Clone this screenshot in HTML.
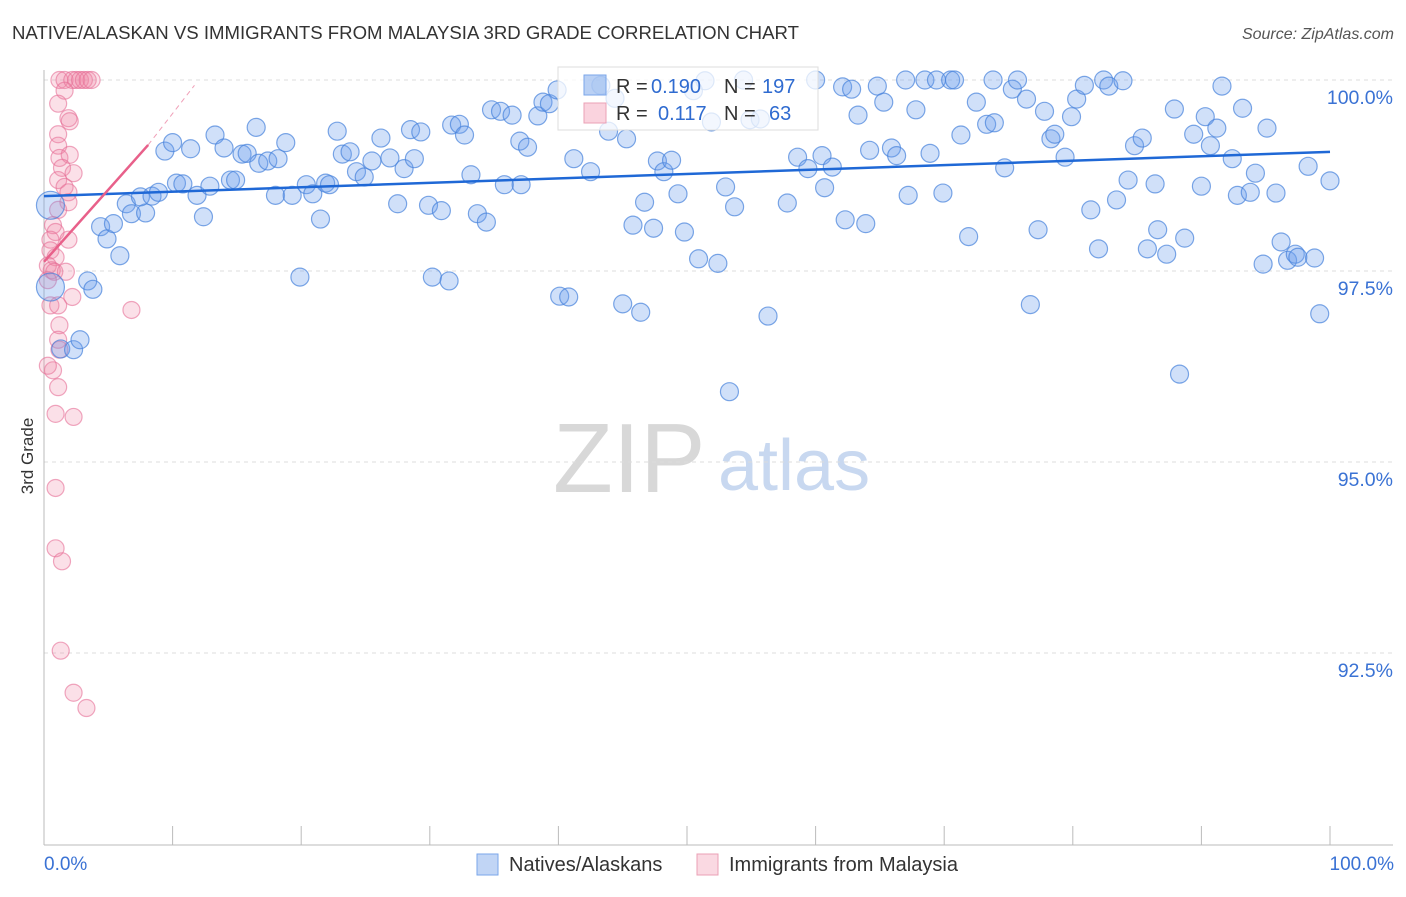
<!DOCTYPE html>
<html><head><meta charset="utf-8"><style>
body{margin:0;background:#fff;font-family:"Liberation Sans",sans-serif;}
svg text{font-family:"Liberation Sans",sans-serif;}
</style></head><body>
<svg id="chart" width="1406" height="892" viewBox="0 0 1406 892" xmlns="http://www.w3.org/2000/svg">
<text x="12" y="39" font-size="18.6" fill="#333">NATIVE/ALASKAN VS IMMIGRANTS FROM MALAYSIA 3RD GRADE CORRELATION CHART</text>
<text x="1394" y="39" font-size="16" fill="#555" text-anchor="end" font-style="italic">Source: ZipAtlas.com</text>
<g>
<text x="553" y="492" font-size="98" fill="#d8d8d8" font-family="Liberation Serif, serif">ZIP</text>
<text x="718" y="490" font-size="72" fill="#c8d8f0">atlas</text>
</g>
<g id="grid"></g>
<g id="axes"></g>
<g id="pinkPts"></g>
<g id="bluePts"></g>
<g id="trends"></g>
<text transform="translate(33,456) rotate(-90)" font-size="17" fill="#333" text-anchor="middle">3rd Grade</text>
<g>
<rect x="558" y="67" width="260" height="63" fill="rgba(255,255,255,0.75)" stroke="#ddd"/>
<rect x="584" y="75" width="22" height="20" fill="rgba(100,150,230,0.45)" stroke="#7aa6ea"/>
<rect x="584" y="103" width="22" height="20" fill="rgba(240,130,160,0.35)" stroke="#eba0b5"/>
<text x="616" y="93" font-size="20" fill="#333">R =</text>
<text x="651" y="93" font-size="20" fill="#2f6bd0">0.190</text>
<text x="724" y="93" font-size="20" fill="#333">N =</text>
<text x="762" y="93" font-size="20" fill="#2f6bd0">197</text>
<text x="616" y="120" font-size="20" fill="#333">R =</text>
<text x="658" y="120" font-size="20" fill="#2f6bd0">0.117</text>
<text x="724" y="120" font-size="20" fill="#333">N =</text>
<text x="769" y="120" font-size="20" fill="#2f6bd0">63</text>
</g>
<g>
<rect x="477" y="854" width="21" height="21" fill="rgba(100,150,230,0.4)" stroke="#7aa6ea"/>
<text x="509" y="871" font-size="20" fill="#333">Natives/Alaskans</text>
<rect x="697" y="854" width="21" height="21" fill="rgba(240,130,160,0.3)" stroke="#eba0b5"/>
<text x="729" y="871" font-size="20" fill="#333">Immigrants from Malaysia</text>
</g>
</svg>
<script>
const yTicks=[100,97.5,95,92.5];
const yTickLabels=["100.0%","97.5%","95.0%","92.5%"];
const xTicks=[0,10,20,30,40,50,60,70,80,90,100];
const blueX=[0.5,0.5,1.3,2.3,2.8,3.4,3.8,4.4,4.9,5.4,5.9,6.4,6.8,7.9,7.5,8.4,8.9,9.4,10.0,10.3,10.8,11.4,11.9,12.4,12.9,13.3,14.0,14.5,14.9,15.4,15.8,16.7,16.5,17.4,18.2,18.0,18.8,19.3,19.9,20.4,20.9,21.5,21.9,22.2,22.8,23.2,23.8,24.3,24.9,25.5,26.2,26.9,27.5,28.0,28.5,28.8,29.3,29.9,30.2,30.9,31.5,31.7,32.3,32.7,33.2,33.7,34.4,34.8,35.5,35.8,36.4,37.1,37.0,37.6,38.4,38.8,39.3,39.9,40.1,40.8,41.2,42.5,43.3,43.9,44.4,45.0,45.3,45.8,46.4,46.7,47.4,47.7,48.2,48.8,49.3,49.8,50.5,50.9,51.4,51.9,52.4,53.0,53.3,53.7,54.4,54.9,55.7,56.3,57.8,58.6,59.4,60.0,60.5,60.7,61.3,62.1,62.3,62.8,63.3,63.9,64.2,64.8,65.3,65.9,66.3,67.2,67.8,67.0,68.9,68.5,69.4,69.9,70.5,70.8,71.3,71.9,72.5,73.3,73.8,73.9,74.7,75.3,75.7,76.4,76.7,77.3,77.8,78.3,78.6,79.4,79.9,80.3,80.9,81.4,82.0,82.4,82.8,83.4,83.9,84.3,84.8,85.4,85.8,86.4,86.6,87.3,87.9,88.3,88.7,89.4,90.0,90.3,90.7,91.2,91.6,92.4,92.8,93.2,93.8,94.2,94.8,95.1,95.8,96.2,96.7,97.3,97.5,98.3,98.8,99.2,100.0];
const blueY=[98.36,97.29,96.48,96.47,96.60,97.37,97.26,98.08,97.92,98.12,97.70,98.38,98.25,98.26,98.47,98.48,98.53,99.07,99.18,98.65,98.64,99.10,98.49,98.21,98.61,99.28,99.11,98.69,98.69,99.03,99.04,98.91,99.38,98.94,98.97,98.49,99.18,98.49,97.42,98.63,98.51,98.18,98.65,98.63,99.33,99.03,99.06,98.80,98.73,98.94,99.24,98.98,98.38,98.84,99.35,98.97,99.32,98.36,97.42,98.29,97.37,99.41,99.42,99.28,98.76,98.25,98.14,99.61,99.59,98.63,99.54,98.63,99.20,99.12,99.53,99.71,99.69,99.87,97.17,97.16,98.97,98.80,99.93,99.33,99.76,97.07,99.23,98.10,96.96,98.40,98.06,98.94,98.80,98.95,98.51,98.01,99.86,97.66,99.99,99.45,97.60,98.60,95.92,98.34,100.0,99.48,99.49,96.91,98.39,98.99,98.84,100.0,99.01,98.59,98.86,99.91,98.17,99.88,99.54,98.12,99.08,99.92,99.71,99.11,99.01,98.49,99.61,100.0,99.04,100.0,100.0,98.52,100.0,100.0,99.28,97.95,99.71,99.42,100.0,99.44,98.85,99.88,100.0,99.75,97.06,98.04,99.59,99.23,99.29,98.99,99.52,99.75,99.93,98.30,97.79,100.0,99.92,98.43,99.99,98.69,99.14,99.24,97.79,98.64,98.04,97.72,99.62,96.15,97.93,99.29,98.61,99.52,99.14,99.37,99.92,98.97,98.49,99.63,98.53,98.78,97.59,99.37,98.52,97.88,97.64,97.72,97.68,98.87,97.67,96.94,98.68];
const pinkX=[1.2,1.6,2.2,2.5,2.8,3.1,3.4,3.7,1.6,1.1,1.9,2.0,1.1,1.1,1.2,2.0,1.4,2.3,1.1,1.6,1.9,1.9,1.1,0.7,0.9,0.5,1.9,0.5,0.9,0.3,0.6,0.8,1.7,0.3,2.2,0.5,1.1,6.8,1.2,1.1,1.2,0.7,0.3,1.1,0.9,2.3,0.9,0.9,1.4,1.3,2.3,3.3];
const pinkY=[100,100,100,100,100,100,100,100,99.86,99.69,99.50,99.46,99.29,99.14,98.98,99.02,98.85,98.78,98.69,98.60,98.53,98.40,98.30,98.10,98.01,97.91,97.91,97.77,97.68,97.57,97.51,97.49,97.49,97.38,97.16,97.05,97.05,96.99,96.79,96.60,96.47,96.20,96.26,95.98,95.63,95.59,94.66,93.87,93.70,92.53,91.98,91.78];
const bigBlueIdx=[0,1];
const blueTrend=[98.48,99.06];
const pinkTrend=[97.62,99.15,99.93];
const pinkTrendX=[0,8.1,11.7];

const NS="http://www.w3.org/2000/svg";
const X=v=>44+v*12.86;
const Y=v=>80+(100-v)*76.4;
function mk(tag,attrs,parent){const e=document.createElementNS(NS,tag);for(const k in attrs)e.setAttribute(k,attrs[k]);parent.appendChild(e);return e;}
const grid=document.getElementById('grid'),axes=document.getElementById('axes');
yTicks.forEach((t,i)=>{
  const l=mk('line',{x1:44,x2:1393,y1:Y(t),y2:Y(t),stroke:'#ddd','stroke-dasharray':'4,4'},grid);
  
  
  const tx=mk('text',{x:1393,y:Y(t)+24,'font-size':19.5,fill:'#3a72d4','text-anchor':'end'},axes);
  tx.textContent=yTickLabels[i];
  
  
});
const ax=mk('line',{x1:44,x2:44,y1:70,y2:845,stroke:'#bbb'},axes);


const bx=mk('line',{x1:44,x2:1393,y1:845,y2:845,stroke:'#bbb'},axes);


xTicks.forEach(t=>{
  const l=mk('line',{x1:X(t),x2:X(t),y1:826,y2:845,stroke:'#bbb'},axes);
  
  
});
const xl0=mk('text',{x:44,y:870,'font-size':19,fill:'#3a72d4'},axes);xl0.textContent='0.0%';


const xl1=mk('text',{x:1394,y:870,'font-size':19,fill:'#3a72d4','text-anchor':'end'},axes);xl1.textContent='100.0%';



const pg=document.getElementById('pinkPts');
pinkX.forEach((v,i)=>{
  const c=mk('circle',{cx:X(v),cy:Y(pinkY[i]),r:8.5,fill:'rgba(240,130,165,0.25)',stroke:'rgba(230,110,150,0.6)','stroke-width':1.2},pg);
  
  
});
const bg=document.getElementById('bluePts');
blueX.forEach((v,i)=>{
  const big=bigBlueIdx.includes(i);
  const c=mk('circle',{cx:X(v),cy:Y(blueY[i]),r:big?14:9,fill:'rgba(110,160,235,0.32)',stroke:'rgba(70,130,220,0.7)','stroke-width':1.2},bg);
  
  
});
const tg=document.getElementById('trends');
const bt=mk('line',{x1:X(0),y1:Y(blueTrend[0]),x2:X(100),y2:Y(blueTrend[1]),stroke:'#1f68d6','stroke-width':2.5},tg);


const pt=mk('line',{x1:X(pinkTrendX[0]),y1:Y(pinkTrend[0]),x2:X(pinkTrendX[1]),y2:Y(pinkTrend[1]),stroke:'#e8608a','stroke-width':2.5},tg);


const pd=mk('line',{x1:X(pinkTrendX[1]),y1:Y(pinkTrend[1]),x2:X(pinkTrendX[2]),y2:Y(pinkTrend[2]),stroke:'#f0a0b8','stroke-width':1,'stroke-dasharray':'5,4'},tg);


</script>
</body></html>
